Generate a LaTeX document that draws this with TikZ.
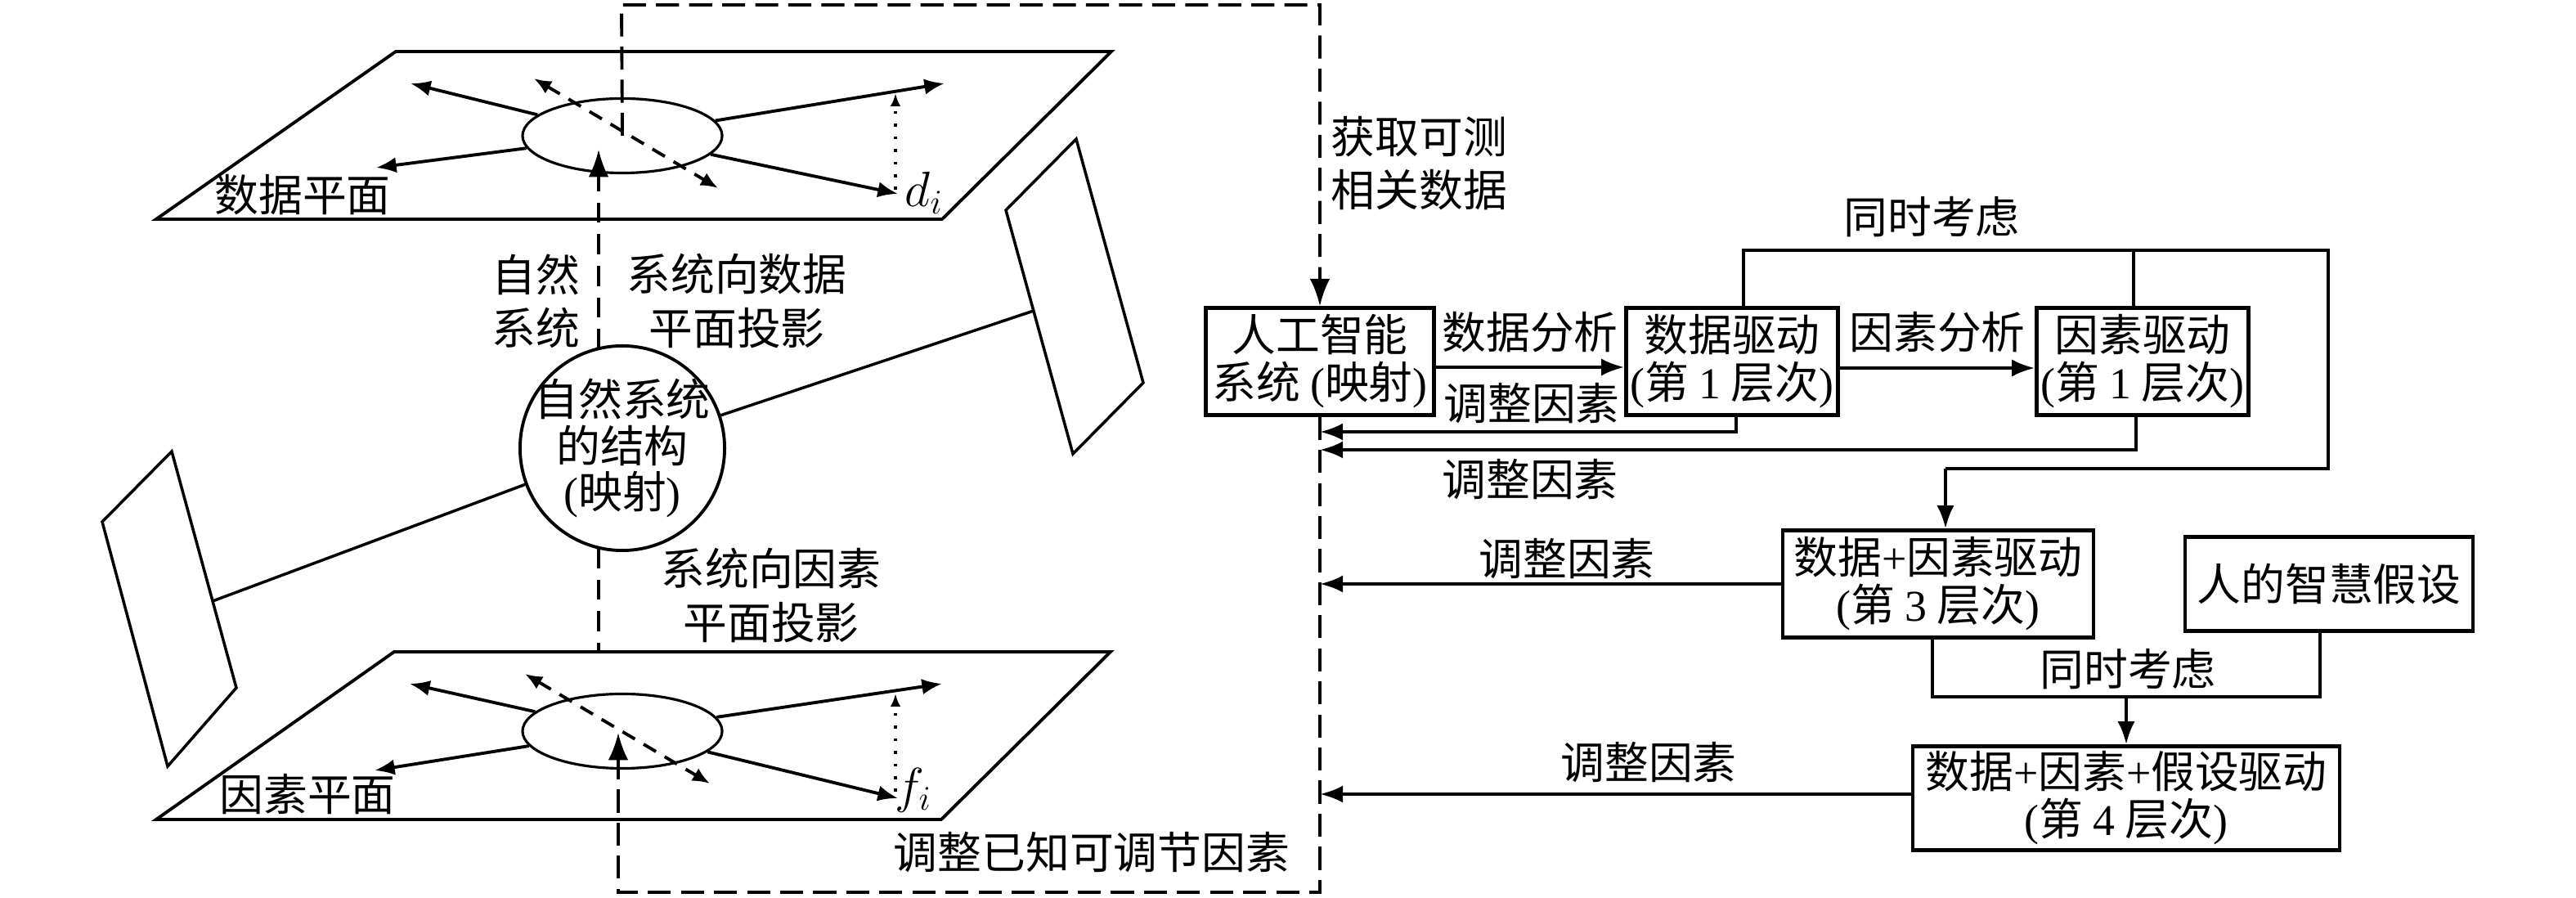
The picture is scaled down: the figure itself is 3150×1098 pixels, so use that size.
\documentclass[tikz,border=0pt]{standalone}
\usepackage{fontspec}
\setmainfont{Noto Sans CJK SC}
\newfontfamily\latin{Liberation Serif}
\usetikzlibrary{arrows.meta,shapes.geometric}

\newcommand\kuo[1]{{\latin(}#1{\latin)}}
\newcommand\ceng[1]{\kuo{第 {\latin #1} 层次}}

\begin{document}
\begin{tikzpicture}[
    x=0.01cm, y=-0.01cm,
    font=\fontsize{15.3}{17.5}\selectfont,
    % boxes of the flow chart
    box/.style={draw, line width=1.2pt, align=center, inner sep=0pt,
        font=\fontsize{15.3}{16.5}\selectfont},
    lbl/.style={inner sep=0pt, align=center, font=\fontsize{15.3}{18.5}\selectfont},
    % planes and their decorations
    plane/.style={line width=1.1pt},
    side/.style={line width=1pt},
    ell/.style={draw, ellipse, line width=0.9pt, minimum width=2.44cm,
        minimum height=0.91cm, inner sep=0pt},
    ray/.style={line width=1.1pt, -{Latex[length=7pt,width=5.5pt]}},
    diag/.style={line width=1.1pt, dash pattern=on 5pt off 3.5pt,
        {Latex[length=6pt,width=5pt]}-{Latex[length=6pt,width=5pt]}},
    dots/.style={line width=1pt, dash pattern=on 1pt off 3.4pt,
        -{Latex[length=4.5pt,width=3.5pt]}},
    proj/.style={line width=1pt, dash pattern=on 7pt off 4pt},
    feedback/.style={line width=1.1pt, dash pattern=on 8pt off 3.5pt},
    bigtip/.style={-{Latex[length=9.5pt,width=7pt]}},
    conn/.style={line width=1.2pt, -{Latex[length=8pt,width=6pt]}},
    link/.style={line width=1.1pt}
]
    \useasboundingbox (0,0) rectangle (3150,1098);

    % Data plane and factor plane
    \draw[plane] (191,268) -- (1152,268) -- (1359,63) -- (484,63) -- cycle;
    \draw[plane] (191,1002) -- (1151,1002) -- (1358,797) -- (482,797) -- cycle;

    % Side planes
    \draw[side] (1316,170) -- (1398,468) -- (1312,555) -- (1230,257) -- cycle;
    \draw[side] (210,552) -- (289,841) -- (205,937) -- (125,638) -- cycle;

    % Ellipses in the planes, circle of the natural system
    \node[ell] (de) at (761,166) {};
    \node[ell] (fe) at (761,894) {};
    \node[draw, circle, line width=1.1pt, minimum size=2.5cm, inner sep=0pt] (ns) at (761,548) {};
    \node[lbl, font=\fontsize{15.3}{16}\selectfont] (nst) at (ns) {自然系统\\的结构\\\kuo{映射}};

    % Circle to side planes
    \draw[side] (ns) -- (1264,380);
    \draw[side] (ns) -- (260,735);

    % Rays in the data plane
    \draw[ray] (de) -- (502,102);
    \draw[ray] (de) -- (460,205);
    \draw[ray] (de) -- (1155,102);
    \draw[ray] (de) -- (1098,237);
    \draw[diag] (653,96) -- (878,230);
    \draw[dots] (1095,232) -- (1095,114);
    \node[lbl, font=\fontsize{17}{18}\selectfont] (di) at (1130,236) {$d_i$};

    % Rays in the factor plane
    \draw[ray] (fe) -- (501,836);
    \draw[ray] (fe) -- (458,942);
    \draw[ray] (fe) -- (1152,836);
    \draw[ray] (fe) -- (1098,976);
    \draw[diag] (642,824) -- (868,958);
    \draw[dots] (1095,968) -- (1095,848);
    \node[lbl, font=\fontsize{17}{18}\selectfont] (fi) at (1117,966) {$f_i$};

    % Projections
    \draw[proj, bigtip] (732,427) -- (732,183);
    \draw[proj] (732,670) -- (732,797);

    % Labels on the left
    \node[lbl] (dp) at (370,238) {数据平面};
    \node[lbl] (fp) at (376,971) {因素平面};
    \node[lbl] (nl1) at (655,368) {自然\\系统};
    \node[lbl] (nl2) at (901,368) {系统向数据\\平面投影};
    \node[lbl] (nl3) at (943,728) {系统向因素\\平面投影};

    % Flow chart boxes
    \node[box, minimum width=2.79cm, minimum height=1.31cm] (ai) at (1614,442) {人工智能\\系统 \kuo{映射}};
    \node[box, minimum width=2.59cm, minimum height=1.31cm] (dd) at (2118,442) {数据驱动\\\ceng{1}};
    \node[box, minimum width=2.59cm, minimum height=1.31cm] (fd) at (2620,442) {因素驱动\\\ceng{1}};
    \node[box, minimum width=3.80cm, minimum height=1.31cm] (dfd) at (2370,714) {数据{\latin+}因素驱动\\\ceng{3}};
    \node[box, minimum width=3.52cm, minimum height=1.15cm] (hum) at (2848,714) {人的智慧假设};
    \node[box, minimum width=5.22cm, minimum height=1.27cm] (dfh) at (2600,976) {数据{\latin+}因素{\latin+}假设驱动\\\ceng{4}};

    % Feedback loop (dashed)
    \draw[feedback, bigtip] (de.center) -- (760,6) -- (1614,6) -- (ai.north);
    \draw[feedback, bigtip] (ai.south) -- (1614,1091) -- (756,1091) -- (756,896);
    \node[lbl, align=left, anchor=west] (obt) at (1627,200) {获取可测\\相关数据};
    \node[lbl] (adj) at (1335,1042) {调整已知可调节因素};

    % Bend points
    \coordinate (k1) at (2123,528);
    \coordinate (k2) at (2612,550);
    \coordinate (t1) at (2132,306);
    \coordinate (t2) at (2847,306);
    \coordinate (t3) at (2847,573);
    \coordinate (t4) at (2379,573);
    \coordinate (t5) at (2609,306);
    \coordinate (b1) at (2363,852);
    \coordinate (b2) at (2837,852);

    % Analysis arrows
    \draw[conn] ([yshift=-0.07cm]ai.east) -- ([yshift=-0.07cm]dd.west);
    \draw[conn] ([yshift=-0.08cm]dd.east) -- ([yshift=-0.08cm]fd.west);
    \node[lbl] (da) at (1871,406) {数据分析};
    \node[lbl] (fa) at (2369,406) {因素分析};

    % Adjusting factors
    \draw[conn] (dd.south -| k1) -- (k1) -- (k1 -| ai);
    \draw[conn] (fd.south -| k2) -- (k2) -- (k2 -| ai);
    \draw[conn] (dfd.west) -- (dfd.west -| ai);
    \draw[conn] ([yshift=0.05cm]dfh.west) -- ([yshift=0.05cm]dfh.west -| ai);
    \node[lbl] (adj1) at (1873,493) {调整因素};
    \node[lbl] (adj2) at (1871,586) {调整因素};
    \node[lbl] (adj3) at (1916,683) {调整因素};
    \node[lbl] (adj4) at (2016,932) {调整因素};

    % Considering at the same time
    \draw[link] (dd.north -| t1) -- (t1) -- (t2) -- (t3) -- (t4);
    \draw[link] (fd.north -| t5) -- (t5);
    \draw[conn] (t4) -- (dfd.north -| t4);
    \node[lbl] (st1) at (2362,265) {同时考虑};
    \draw[link] (dfd.south -| b1) -- (b1) -- (b2) -- (hum.south -| b2);
    \draw[conn] (dfh.north |- b1) -- (dfh.north);
    \node[lbl] (st2) at (2602,818) {同时考虑};
\end{tikzpicture}
\end{document}
